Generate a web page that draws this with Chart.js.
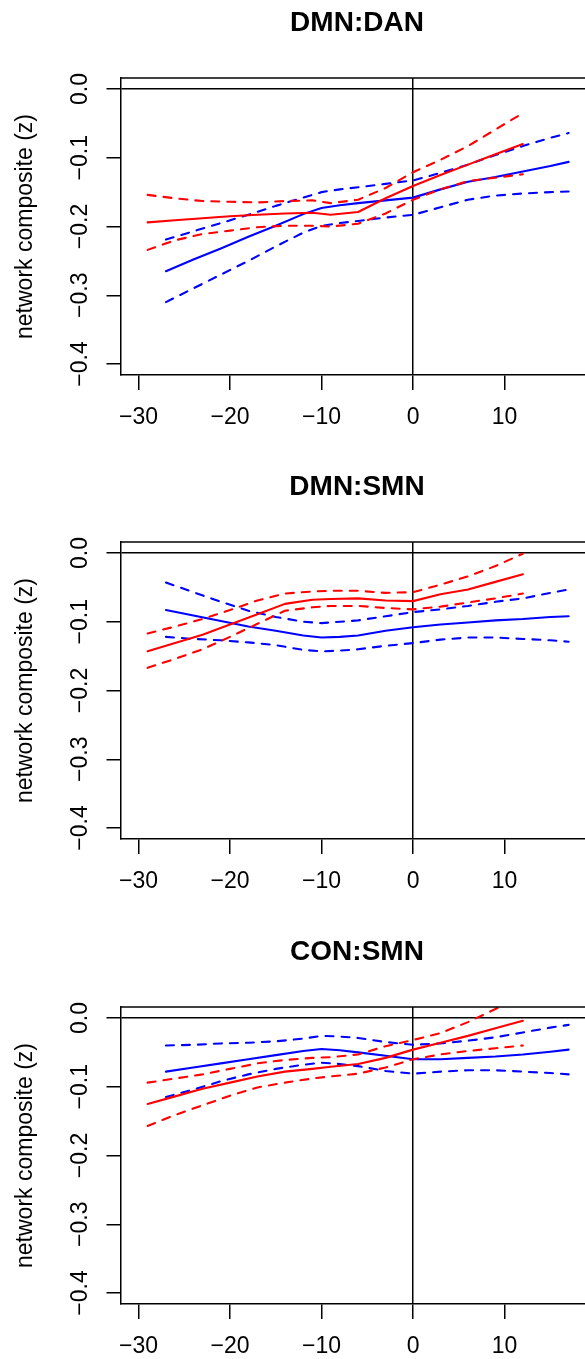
<!DOCTYPE html>
<html>
<head>
<meta charset="utf-8">
<script src="https://cdn.jsdelivr.net/npm/chart.js@4.4.0/dist/chart.umd.min.js"></script>
<style>
html, body { margin: 0; padding: 0; background: #fff; }
body { width: 585px; height: 1359px; overflow: hidden; position: relative; }
.panel { position: absolute; left: 0; width: 585px; height: 464px; overflow: hidden; }
canvas { display: block; }
</style>
</head>
<body>
<div class="panel" style="top:0px"><canvas id="c0" width="600" height="464"></canvas></div>
<div class="panel" style="top:464px"><canvas id="c1" width="600" height="464"></canvas></div>
<div class="panel" style="top:929px"><canvas id="c2" width="600" height="464"></canvas></div>
<script>
// x positions of the two groups (red and blue curves)
const redX = [-29, -26, -23, -20, -17, -14, -11, -9, -6, -3, 0, 3, 6, 9, 12];
const blueX = [-27, -24, -21, -18, -15, -12, -10, -8, -6, -3, 0, 3, 6, 9, 12, 15, 17];

const panelTitles = ['DMN:DAN', 'DMN:SMN', 'CON:SMN'];
const xTickValues = [-30, -20, -10, 0, 10];
const yTickValues = [-0.4, -0.3, -0.2, -0.1, 0];

// DMN:DAN
const dmnDanRed      = [-0.194, -0.191, -0.188, -0.185, -0.183, -0.181, -0.180, -0.183, -0.179, -0.159, -0.141, -0.125, -0.110, -0.095, -0.080];
const dmnDanRedUpper = [-0.154, -0.159, -0.163, -0.164, -0.165, -0.163, -0.162, -0.166, -0.161, -0.144, -0.121, -0.103, -0.083, -0.059, -0.035];
const dmnDanRedLower = [-0.234, -0.220, -0.211, -0.206, -0.201, -0.199, -0.199, -0.200, -0.196, -0.181, -0.161, -0.146, -0.134, -0.129, -0.124];
const dmnDanBlue      = [-0.265, -0.248, -0.232, -0.215, -0.199, -0.182, -0.173, -0.169, -0.166, -0.162, -0.158, -0.146, -0.135, -0.128, -0.120, -0.112, -0.106];
const dmnDanBlueUpper = [-0.219, -0.207, -0.195, -0.183, -0.170, -0.158, -0.150, -0.146, -0.143, -0.138, -0.133, -0.122, -0.110, -0.096, -0.083, -0.071, -0.064];
const dmnDanBlueLower = [-0.310, -0.290, -0.270, -0.250, -0.229, -0.209, -0.199, -0.195, -0.192, -0.187, -0.183, -0.172, -0.161, -0.155, -0.152, -0.150, -0.149];

// DMN:SMN
const dmnSmnRed      = [-0.143, -0.131, -0.119, -0.104, -0.089, -0.074, -0.068, -0.067, -0.066, -0.069, -0.070, -0.060, -0.053, -0.042, -0.031];
const dmnSmnRedUpper = [-0.117, -0.107, -0.096, -0.083, -0.069, -0.059, -0.056, -0.055, -0.055, -0.058, -0.057, -0.046, -0.034, -0.019, -0.001];
const dmnSmnRedLower = [-0.167, -0.154, -0.140, -0.122, -0.103, -0.084, -0.079, -0.077, -0.077, -0.080, -0.082, -0.078, -0.072, -0.066, -0.059];
const dmnSmnBlue      = [-0.083, -0.091, -0.099, -0.107, -0.113, -0.120, -0.123, -0.122, -0.120, -0.113, -0.108, -0.104, -0.101, -0.098, -0.096, -0.093, -0.092];
const dmnSmnBlueUpper = [-0.043, -0.057, -0.071, -0.084, -0.093, -0.100, -0.102, -0.100, -0.098, -0.092, -0.086, -0.082, -0.077, -0.071, -0.066, -0.058, -0.053];
const dmnSmnBlueLower = [-0.122, -0.125, -0.127, -0.130, -0.134, -0.141, -0.143, -0.142, -0.140, -0.135, -0.131, -0.126, -0.123, -0.123, -0.125, -0.127, -0.129];

// CON:SMN
const conSmnRed      = [-0.125, -0.114, -0.103, -0.094, -0.085, -0.078, -0.074, -0.071, -0.067, -0.058, -0.046, -0.036, -0.026, -0.015, -0.004];
const conSmnRedUpper = [-0.094, -0.088, -0.082, -0.074, -0.066, -0.061, -0.058, -0.057, -0.053, -0.041, -0.032, -0.022, -0.006, 0.013, 0.033];
const conSmnRedLower = [-0.157, -0.141, -0.127, -0.113, -0.101, -0.094, -0.088, -0.085, -0.081, -0.072, -0.060, -0.053, -0.048, -0.044, -0.040];
const conSmnBlue      = [-0.078, -0.072, -0.066, -0.060, -0.054, -0.048, -0.045, -0.047, -0.050, -0.055, -0.060, -0.060, -0.058, -0.056, -0.053, -0.049, -0.046];
const conSmnBlueUpper = [-0.040, -0.039, -0.037, -0.036, -0.034, -0.030, -0.026, -0.027, -0.029, -0.035, -0.039, -0.037, -0.033, -0.028, -0.021, -0.014, -0.010];
const conSmnBlueLower = [-0.115, -0.104, -0.092, -0.082, -0.074, -0.068, -0.065, -0.067, -0.070, -0.077, -0.081, -0.078, -0.076, -0.076, -0.078, -0.080, -0.082];

const panels = [
    { red: [dmnDanRed, dmnDanRedUpper, dmnDanRedLower], blue: [dmnDanBlue, dmnDanBlueUpper, dmnDanBlueLower] },
    { red: [dmnSmnRed, dmnSmnRedUpper, dmnSmnRedLower], blue: [dmnSmnBlue, dmnSmnBlueUpper, dmnSmnBlueLower] },
    { red: [conSmnRed, conSmnRedUpper, conSmnRedLower], blue: [conSmnBlue, conSmnBlueUpper, conSmnBlueLower] }
];

Chart.defaults.font.family = "'Liberation Sans', Arial, Helvetica, sans-serif";
Chart.defaults.font.size = 23;
Chart.defaults.color = '#000';

const minus = v => (v < 0 ? '\u2212' : '') + Math.abs(v);

// top edge of the plot box
const boxTop = {
    id: 'boxTop',
    afterDraw(chart) {
        const { ctx, chartArea } = chart;
        ctx.save();
        ctx.strokeStyle = '#000';
        ctx.lineWidth = 1.5;
        ctx.beginPath();
        ctx.moveTo(chartArea.left, chartArea.top);
        ctx.lineTo(chartArea.right, chartArea.top);
        ctx.stroke();
        ctx.restore();
    }
};

function makeSet(xs, ys, color, dashed) {
    return {
        data: xs.map((x, i) => ({ x: x, y: ys[i] })),
        borderColor: color,
        borderWidth: 2.1,
        borderDash: dashed ? [8, 8] : [],
        borderCapStyle: 'round',
        borderJoinStyle: 'round',
        pointRadius: 0,
        tension: 0,
        fill: false
    };
}

const zeroOnly = ctx => (ctx.tick && ctx.tick.value === 0) ? '#000' : 'rgba(0,0,0,0)';

panels.forEach((p, k) => {
    const datasets = [
        makeSet(redX, p.red[0], '#ff0000', false),
        makeSet(redX, p.red[1], '#ff0000', true),
        makeSet(redX, p.red[2], '#ff0000', true),
        makeSet(blueX, p.blue[0], '#0000ff', false),
        makeSet(blueX, p.blue[1], '#0000ff', true),
        makeSet(blueX, p.blue[2], '#0000ff', true)
    ];

    new Chart(document.getElementById('c' + k), {
        type: 'line',
        data: { datasets: datasets },
        plugins: [boxTop],
        options: {
            responsive: false,
            animation: false,
            layout: { padding: { top: 0, right: 7, bottom: 0, left: 0 } },
            plugins: {
                legend: { display: false },
                tooltip: { enabled: false },
                title: {
                    display: true,
                    text: panelTitles[k],
                    fullSize: false,
                    color: '#000',
                    font: { size: 28, weight: 'bold' },
                    padding: { top: 6.7, bottom: 37.7 }
                }
            },
            scales: {
                x: {
                    type: 'linear',
                    min: -31.91,
                    max: 19.66,
                    afterBuildTicks: s => { s.ticks = xTickValues.map(v => ({ value: v })); },
                    afterFit: s => { s.height = 89; },
                    ticks: {
                        autoSkip: false,
                        minRotation: 0,
                        maxRotation: 0,
                        padding: 14.2,
                        color: '#000',
                        callback: v => minus(v)
                    },
                    grid: {
                        color: zeroOnly,
                        lineWidth: 1.5,
                        tickColor: '#000',
                        tickWidth: 1.5,
                        tickLength: 15
                    },
                    border: { display: true, color: '#000', width: 1.5 }
                },
                y: {
                    type: 'linear',
                    min: -0.416,
                    max: 0.016,
                    afterBuildTicks: s => { s.ticks = yTickValues.map(v => ({ value: v })); },
                    afterFit: s => { s.width = 121; },
                    ticks: {
                        minRotation: 90,
                        maxRotation: 90,
                        crossAlign: 'center',
                        padding: 2.8,
                        color: '#000',
                        callback: v => (v < 0 ? '\u2212' : '') + Math.abs(v).toFixed(1)
                    },
                    grid: {
                        color: zeroOnly,
                        lineWidth: 1.5,
                        tickColor: '#000',
                        tickWidth: 1.5,
                        tickLength: 14.5
                    },
                    border: { display: true, color: '#000', width: 1.5 },
                    title: {
                        display: true,
                        text: 'network composite (z)',
                        color: '#000',
                        font: { size: 23 },
                        padding: { top: 11.7, bottom: 0 }
                    }
                }
            }
        }
    });
});
</script>
</body>
</html>
